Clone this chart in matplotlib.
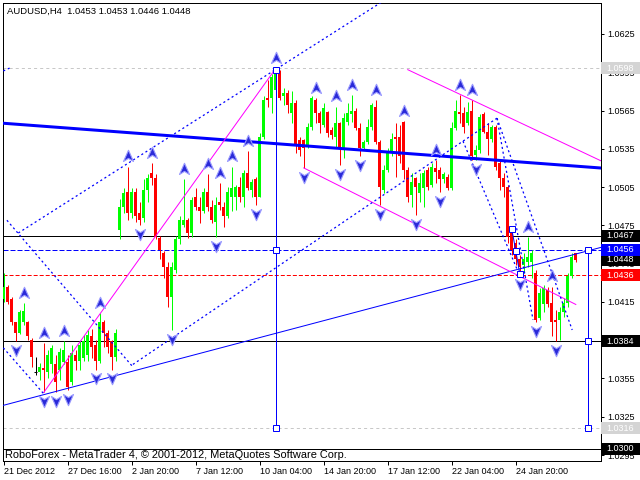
import matplotlib
matplotlib.use('Agg')
import matplotlib.pyplot as plt
import numpy as np
from matplotlib.path import Path
from matplotlib.patches import Rectangle
from matplotlib.transforms import blended_transform_factory

plt.rcParams['font.family'] = ['Liberation Sans', 'DejaVu Sans']
plt.rcParams['lines.scale_dashes'] = False

title_text = 'AUDUSD,H4  1.0453 1.0453 1.0446 1.0448'
watermark = 'RoboForex - MetaTrader 4, \u00a9 2001-2012, MetaQuotes Software Corp.'

# H4 candles, 21 Dec 2012 .. 25 Jan 2013
opens = [
    1.0417, 1.0427, 1.0417, 1.0399, 1.0391, 1.0399, 1.0399, 1.0385, 1.0360, 1.0360,
    1.0363, 1.0360, 1.0366, 1.0366, 1.0362, 1.0368, 1.0368, 1.0352, 1.0373, 1.0369,
    1.0371, 1.0373, 1.0388, 1.0381, 1.0369, 1.0399, 1.0391, 1.0384, 1.0372, 1.0471,
    1.0489, 1.0501, 1.0485, 1.0501, 1.0485, 1.0481, 1.0503, 1.0516, 1.0512, 1.0465,
    1.0453, 1.0442, 1.0419, 1.0440, 1.0464, 1.0475, 1.0479, 1.0469, 1.0497, 1.0489,
    1.0486, 1.0501, 1.0489, 1.0478, 1.0493, 1.0489, 1.0482, 1.0497, 1.0497, 1.0505,
    1.0497, 1.0516, 1.0503, 1.0511, 1.0497, 1.0544, 1.0575, 1.0575, 1.0581, 1.0595,
    1.0576, 1.0579, 1.0563, 1.0571, 1.0542, 1.0542, 1.0538, 1.0552, 1.0573, 1.0563,
    1.0554, 1.0564, 1.0550, 1.0544, 1.0555, 1.0536, 1.0556, 1.0562, 1.0565, 1.0551,
    1.0536, 1.0540, 1.0552, 1.0568, 1.0540, 1.0503, 1.0518, 1.0532, 1.0544, 1.0544,
    1.0556, 1.0518, 1.0499, 1.0512, 1.0500, 1.0504, 1.0518, 1.0507, 1.0520, 1.0518,
    1.0511, 1.0513, 1.0504, 1.0551, 1.0564, 1.0563, 1.0555, 1.0565, 1.0530, 1.0534,
    1.0562, 1.0548, 1.0543, 1.0552, 1.0524, 1.0512, 1.0505, 1.0471, 1.0461, 1.0449,
    1.0444, 1.0446, 1.0446, 1.0438, 1.0402, 1.0413, 1.0424, 1.0414, 1.0401, 1.0401,
    1.0407, 1.0414, 1.0435, 1.0453,
]
highs = [
    1.0438, 1.0428, 1.0419, 1.0399, 1.0409, 1.0414, 1.0400, 1.0387, 1.0372, 1.0367,
    1.0383, 1.0377, 1.0381, 1.0373, 1.0379, 1.0384, 1.0373, 1.0381, 1.0377, 1.0384,
    1.0389, 1.0393, 1.0394, 1.0385, 1.0406, 1.0401, 1.0393, 1.0385, 1.0394, 1.0496,
    1.0504, 1.0521, 1.0504, 1.0504, 1.0493, 1.0511, 1.0515, 1.0524, 1.0515, 1.0467,
    1.0455, 1.0446, 1.0446, 1.0467, 1.0482, 1.0511, 1.0481, 1.0497, 1.0504, 1.0497,
    1.0504, 1.0515, 1.0495, 1.0497, 1.0508, 1.0493, 1.0505, 1.0521, 1.0507, 1.0513,
    1.0518, 1.0533, 1.0511, 1.0513, 1.0547, 1.0576, 1.0589, 1.0594, 1.0598, 1.0597,
    1.0583, 1.0581, 1.0580, 1.0573, 1.0544, 1.0543, 1.0555, 1.0576, 1.0575, 1.0565,
    1.0571, 1.0565, 1.0552, 1.0568, 1.0556, 1.0563, 1.0571, 1.0577, 1.0567, 1.0555,
    1.0542, 1.0558, 1.0571, 1.0573, 1.0542, 1.0522, 1.0536, 1.0547, 1.0555, 1.0554,
    1.0557, 1.0521, 1.0516, 1.0513, 1.0516, 1.0518, 1.0521, 1.0524, 1.0526, 1.0521,
    1.0517, 1.0515, 1.0556, 1.0573, 1.0577, 1.0568, 1.0572, 1.0573, 1.0538, 1.0562,
    1.0564, 1.0555, 1.0554, 1.0554, 1.0526, 1.0516, 1.0507, 1.0474, 1.0464, 1.0452,
    1.0453, 1.0466, 1.0456, 1.0440, 1.0426, 1.0428, 1.0427, 1.0427, 1.0409, 1.0411,
    1.0418, 1.0438, 1.0453, 1.0453,
]
lows = [
    1.0415, 1.0413, 1.0397, 1.0384, 1.0390, 1.0397, 1.0385, 1.0364, 1.0358, 1.0354,
    1.0344, 1.0355, 1.0359, 1.0344, 1.0354, 1.0366, 1.0346, 1.0350, 1.0362, 1.0362,
    1.0369, 1.0369, 1.0371, 1.0362, 1.0367, 1.0380, 1.0375, 1.0362, 1.0369, 1.0464,
    1.0485, 1.0479, 1.0481, 1.0478, 1.0475, 1.0478, 1.0493, 1.0507, 1.0464, 1.0449,
    1.0434, 1.0411, 1.0393, 1.0438, 1.0460, 1.0474, 1.0465, 1.0466, 1.0487, 1.0477,
    1.0485, 1.0486, 1.0477, 1.0466, 1.0487, 1.0474, 1.0481, 1.0486, 1.0487, 1.0493,
    1.0489, 1.0503, 1.0497, 1.0491, 1.0497, 1.0543, 1.0568, 1.0563, 1.0573, 1.0573,
    1.0569, 1.0563, 1.0555, 1.0532, 1.0529, 1.0520, 1.0536, 1.0550, 1.0555, 1.0547,
    1.0552, 1.0544, 1.0543, 1.0536, 1.0522, 1.0528, 1.0554, 1.0556, 1.0550, 1.0529,
    1.0535, 1.0539, 1.0550, 1.0539, 1.0491, 1.0500, 1.0517, 1.0529, 1.0513, 1.0524,
    1.0511, 1.0493, 1.0489, 1.0483, 1.0493, 1.0489, 1.0503, 1.0505, 1.0508, 1.0501,
    1.0508, 1.0503, 1.0503, 1.0550, 1.0555, 1.0547, 1.0554, 1.0526, 1.0526, 1.0532,
    1.0547, 1.0530, 1.0540, 1.0518, 1.0503, 1.0497, 1.0461, 1.0452, 1.0444, 1.0436,
    1.0438, 1.0442, 1.0434, 1.0399, 1.0401, 1.0407, 1.0411, 1.0388, 1.0384, 1.0385,
    1.0403, 1.0411, 1.0434, 1.0446,
]
closes = [
    1.0427, 1.0415, 1.0399, 1.0391, 1.0407, 1.0408, 1.0388, 1.0372, 1.0360, 1.0364,
    1.0362, 1.0373, 1.0379, 1.0352, 1.0376, 1.0377, 1.0348, 1.0375, 1.0369, 1.0381,
    1.0384, 1.0389, 1.0380, 1.0369, 1.0399, 1.0391, 1.0380, 1.0372, 1.0391, 1.0489,
    1.0500, 1.0485, 1.0501, 1.0482, 1.0479, 1.0503, 1.0512, 1.0512, 1.0466, 1.0456,
    1.0442, 1.0419, 1.0442, 1.0464, 1.0479, 1.0479, 1.0469, 1.0495, 1.0489, 1.0486,
    1.0501, 1.0489, 1.0479, 1.0491, 1.0491, 1.0482, 1.0501, 1.0504, 1.0505, 1.0497,
    1.0516, 1.0504, 1.0509, 1.0497, 1.0544, 1.0573, 1.0573, 1.0591, 1.0594, 1.0575,
    1.0579, 1.0569, 1.0571, 1.0538, 1.0534, 1.0536, 1.0552, 1.0575, 1.0563, 1.0555,
    1.0567, 1.0547, 1.0546, 1.0555, 1.0536, 1.0559, 1.0563, 1.0565, 1.0551, 1.0536,
    1.0540, 1.0552, 1.0569, 1.0540, 1.0505, 1.0518, 1.0532, 1.0543, 1.0543, 1.0529,
    1.0518, 1.0497, 1.0509, 1.0505, 1.0508, 1.0516, 1.0505, 1.0521, 1.0517, 1.0511,
    1.0515, 1.0504, 1.0551, 1.0565, 1.0562, 1.0552, 1.0564, 1.0529, 1.0534, 1.0560,
    1.0548, 1.0543, 1.0552, 1.0521, 1.0512, 1.0505, 1.0466, 1.0456, 1.0449, 1.0442,
    1.0449, 1.0450, 1.0453, 1.0401, 1.0422, 1.0426, 1.0413, 1.0399, 1.0399, 1.0407,
    1.0414, 1.0435, 1.0450, 1.0448,
]

date_ticks = [0, 16, 32, 48, 64, 80, 96, 112, 128]
date_labels = ['21 Dec 2012', '27 Dec 16:00', '2 Jan 20:00', '7 Jan 12:00', '10 Jan 04:00',
               '14 Jan 20:00', '17 Jan 12:00', '22 Jan 04:00', '24 Jan 20:00']
price_ticks = [1.0625, 1.0595, 1.0565, 1.0535, 1.0505, 1.0475, 1.0445,
               1.0415, 1.0385, 1.0355, 1.0325, 1.0295]

# fractal bars (index of the candle)
up_fractals = [5, 10, 15, 24, 31, 37, 45, 51, 54, 57, 61, 68, 78, 83, 87, 93,
               100, 108, 114, 117, 131, 137]
down_fractals = [3, 10, 13, 16, 23, 27, 34, 42, 53, 63, 75, 84, 89, 94, 103, 109,
                 118, 129, 133, 138]

# horizontal levels
level_high = 1.0598
level_res = 1.0467
level_blue = 1.0456
level_red = 1.0436
level_sup = 1.0384
level_low = 1.0316
level_bottom = 1.0300
last_price = 1.0448

# drawn objects: (bar, price) anchors
main_trend = [(0, 1.0555), (149, 1.0520)]
rising_trend = [(0, 1.0334), (146, 1.0455)]
magenta_up = [(10, 1.0344), (68, 1.0598)]
magenta_down = [(75, 1.0520), (143, 1.0413)]
magenta_top = [(101, 1.0597), (149, 1.0526)]
dot_stub = [(-0.1, 1.0596), (2, 1.0599)]
dot_rise1 = [(3.65, 1.0469), (99, 1.0659)]
dot_fall1 = [(0.8, 1.0479), (32.3, 1.0364)]
dot_fall0 = [(-0.1, 1.0379), (10, 1.0343)]
dot_rise2 = [(32.3, 1.0366), (123.3, 1.0559)]
dot_drop_a = [(123.3, 1.0559), (132.3, 1.0401)]
dot_drop_b = [(123.3, 1.0559), (142.1, 1.0393)]
dot_drop_c = [(114.8, 1.0541), (128.8, 1.0437)]
proj_points = [(127, 1.0472), (128, 1.0455), (129, 1.0437)]
vline_left = (68, [1.0597, 1.0456, 1.0316])
vline_right = (146, [1.0456, 1.0384, 1.0316])

PX = 0.72  # one screen pixel in points
BLUE = '#0000ff'
MAG = '#ff00ff'

fig = plt.figure(figsize=(6.4, 4.8), dpi=100)
fig.patch.set_facecolor('white')
ax = fig.add_axes([2.7 / 640, 19 / 480, 598.3 / 640, 458.3 / 480])
ax.set_xlim(-0.25, 149.3)
ax.set_ylim(1.02903, 1.06495)

o = np.array(opens)
h = np.array(highs)
l = np.array(lows)
c = np.array(closes)
x = np.arange(len(c))
col = np.where(c > o, '#00ff00', np.where(c < o, '#ff0000', '#000000'))

# levels
ax.axhline(level_high, color='#c8c8c8', lw=PX, ls=(0, (2.2, 2.2)), zorder=1)
ax.axhline(level_low, color='#c8c8c8', lw=PX, ls=(0, (2.2, 2.2)), zorder=1)
ax.axhline(level_res, color='black', lw=PX, zorder=1)
ax.axhline(level_sup, color='black', lw=PX, zorder=1)
ax.axhline(level_bottom, color='black', lw=PX, zorder=1)
ax.axhline(level_blue, color=BLUE, lw=PX, ls=(0, (3.6, 1.44)), zorder=1)
ax.axhline(level_red, color='#ff0000', lw=PX, ls=(0, (2.9, 1.44)), zorder=1)

# candles
ax.vlines(x, l, h, colors=col, lw=PX, zorder=3)
ax.bar(x, np.abs(c - o), bottom=np.minimum(o, c), width=0.75, color=col, lw=0, zorder=3)
flat = c == o
ax.hlines(c[flat], x[flat] - 0.4, x[flat] + 0.4, colors='black', lw=PX, zorder=3)


def ray(pts, start=None):
    (x0, y0), (x1, y1) = pts
    k = (y1 - y0) / (x1 - x0)
    xs = np.array([-2.0 if start is None else start, 152.0])
    return xs, y0 + k * (xs - x0)


def seg(pts):
    return [p[0] for p in pts], [p[1] for p in pts]


dots = (0, (1.5, 2.0))
ax.plot(*ray(main_trend), color=BLUE, lw=3 * PX, zorder=4)
ax.plot(*ray(rising_trend), color=BLUE, lw=PX, zorder=4)
ax.plot(*seg(magenta_up), color=MAG, lw=PX, zorder=4)
ax.plot(*seg(magenta_down), color=MAG, lw=PX, zorder=4)
ax.plot(*ray(magenta_top, start=magenta_top[0][0]), color=MAG, lw=PX, zorder=4)
for d in [dot_stub, dot_rise1, dot_fall1, dot_fall0, dot_rise2,
          dot_drop_a, dot_drop_b, dot_drop_c]:
    ax.plot(*seg(d), color=BLUE, lw=0.9, ls=dots, zorder=4)

# projection points and vertical markers
ax.plot(*seg(proj_points), color=BLUE, lw=PX, zorder=5)
ax.plot(*seg(proj_points), 's', ms=4, mfc='white', mec=BLUE, mew=PX, zorder=6)
for bx, ys in [vline_left, vline_right]:
    ax.plot([bx, bx], [max(ys), min(ys)], color=BLUE, lw=PX, zorder=5)
    ax.plot([bx] * len(ys), ys, 's', ms=4, mfc='white', mec=BLUE, mew=PX, zorder=6)

# fractal arrows
up_arrow = Path([(0, 1), (0.8, -0.8), (0, -0.3), (-0.8, -0.8), (0, 1)],
                [Path.MOVETO, Path.LINETO, Path.LINETO, Path.LINETO, Path.CLOSEPOLY])
down_arrow = Path([(0, -1), (0.8, 0.8), (0, 0.3), (-0.8, 0.8), (0, -1)],
                  [Path.MOVETO, Path.LINETO, Path.LINETO, Path.LINETO, Path.CLOSEPOLY])
ax.plot(np.array(up_fractals), h[up_fractals] + 0.0008, ls='none', marker=up_arrow, ms=9,
        mfc='#2a2ad8', mec='#9a9aff', mew=0.8, zorder=7)
ax.plot(np.array(down_fractals), l[down_fractals] - 0.0007, ls='none', marker=down_arrow, ms=9,
        mfc='#2a2ad8', mec='#9a9aff', mew=0.8, zorder=7)

# axes, ticks
for s in ax.spines.values():
    s.set_linewidth(PX)
ax.yaxis.tick_right()
ax.set_yticks(price_ticks)
ax.set_yticklabels([f'{p:.4f}' for p in price_ticks])
ax.tick_params(axis='y', length=2.2, width=PX, pad=2, labelsize=6.5)
ax.set_xticks(date_ticks)
ax.set_xticklabels(date_labels, ha='left')
ax.tick_params(axis='x', length=2.9, width=PX, pad=1.5, labelsize=6.5)

# price tags on the right scale
trans = blended_transform_factory(ax.transAxes, ax.transData)
box_w = 39 / 598.3
box_h = 12 * (1.06495 - 1.02903) / 458.3
tags = [(level_high, '#d4d4d4'), (level_res, 'black'), (last_price, 'black'),
        (level_blue, BLUE), (level_red, '#ff0000'), (level_sup, 'black'),
        (level_low, '#d4d4d4'), (level_bottom, 'black')]
for i, (lvl, bg) in enumerate(tags):
    ax.add_patch(Rectangle((1.0, lvl - box_h / 2), box_w, box_h, transform=trans,
                           facecolor=bg, edgecolor='none', clip_on=False, zorder=10 + i))
    ax.text(1.0 + 5 / 598.3, lvl, f'{lvl:.4f}', transform=trans, color='white',
            fontsize=6.5, va='center', ha='left', clip_on=False, zorder=10.5 + i)

fig.text(7 / 640, 1 - 11 / 480, title_text, fontsize=6.8, va='center', ha='left')
fig.text(5 / 640, 1 - 455 / 480, watermark, fontsize=7.9, va='center', ha='left')

fig.savefig('out.png', dpi=100)
